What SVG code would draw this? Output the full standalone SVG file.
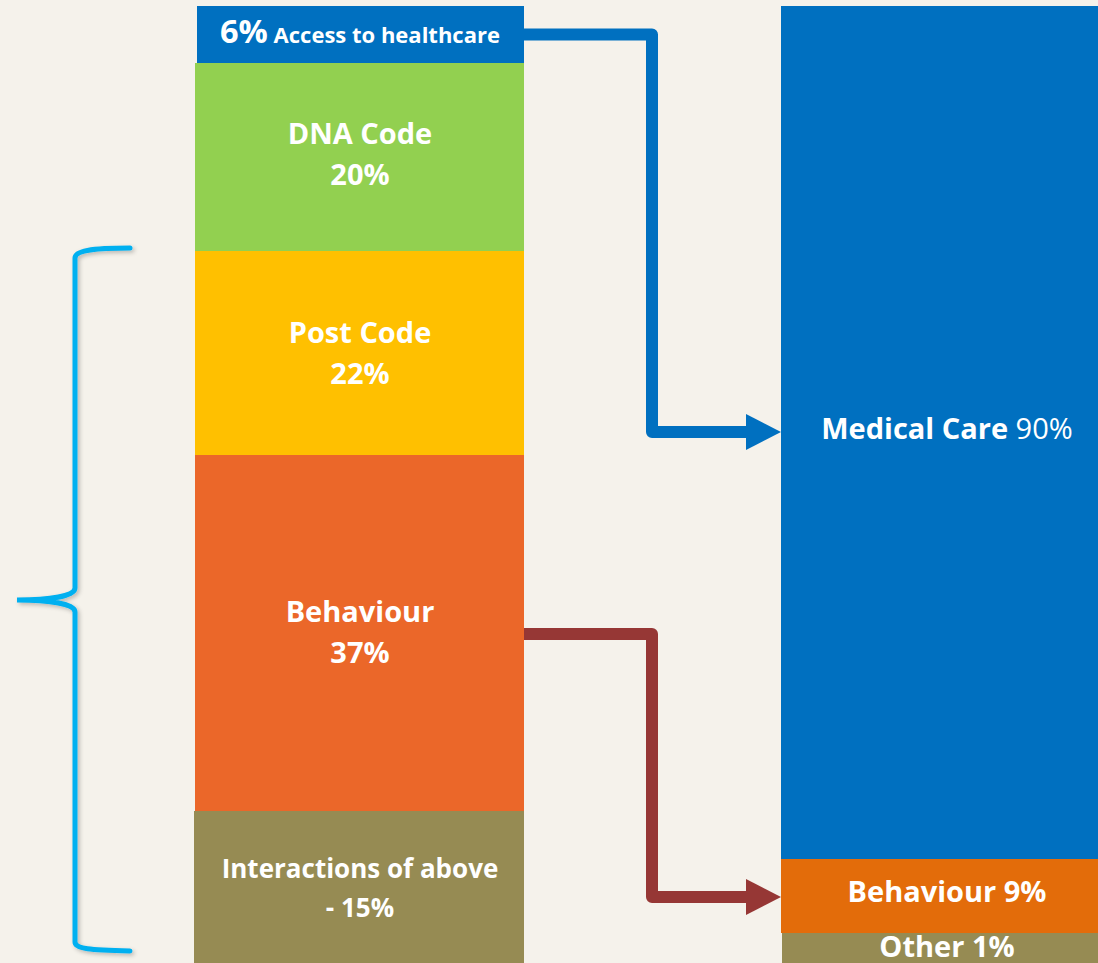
<svg xmlns="http://www.w3.org/2000/svg" width="1098" height="963" viewBox="0 0 1098 963">
<defs>
<style>
.t{font-family:"Open Sans","Noto Sans","DejaVu Sans",sans-serif;font-weight:700;fill:#fff;text-anchor:middle}
.c{fill:none;stroke-width:12;stroke-linejoin:round}
</style>
<filter id="sh" x="-20%" y="-5%" width="140%" height="110%">
<feGaussianBlur in="SourceAlpha" stdDeviation="2"/>
<feOffset dx="2" dy="2" result="b"/>
<feFlood flood-color="#000" flood-opacity="0.25"/>
<feComposite in2="b" operator="in"/>
<feMerge><feMergeNode/><feMergeNode in="SourceGraphic"/></feMerge>
</filter>
<marker id="ab" markerUnits="userSpaceOnUse" markerWidth="36" markerHeight="36" refX="0" refY="18" orient="auto" viewBox="0 0 36 36"><path d="M0,0 L35,18 L0,36 Z" fill="#0070C0"/></marker>
<marker id="ar" markerUnits="userSpaceOnUse" markerWidth="36" markerHeight="36" refX="0" refY="18" orient="auto" viewBox="0 0 36 36"><path d="M0,0 L35,18 L0,36 Z" fill="#963735"/></marker>
</defs>
<rect width="1098" height="963" fill="#F5F2EB"/>
<g id="access"><rect x="197" y="6" width="327" height="57" fill="#0070C0"/><text class="t" x="360" y="43"><tspan font-size="32.5">6%</tspan><tspan font-size="22"> Access to healthcare</tspan></text></g>
<g id="dna"><rect x="195" y="63" width="329" height="188" fill="#92D050"/><text class="t" x="360" y="144" font-size="29">DNA Code</text><text class="t" x="360" y="185" font-size="29">20%</text></g>
<g id="postcode"><rect x="195" y="251" width="329" height="204" fill="#FFC000"/><text class="t" x="360" y="343" font-size="29">Post Code</text><text class="t" x="360" y="384" font-size="29">22%</text></g>
<g id="behaviour"><rect x="195" y="455" width="329" height="356" fill="#EB6729"/><text class="t" x="360" y="622" font-size="29">Behaviour</text><text class="t" x="360" y="663" font-size="29">37%</text></g>
<g id="interactions"><rect x="194" y="811" width="330" height="152" fill="#968B53"/><text class="t" x="360" y="878" font-size="26">Interactions of above</text><text class="t" x="360" y="917" font-size="26">- 15%</text></g>
<g id="medical"><rect x="781" y="6" width="317" height="853" fill="#0070C0"/><text class="t" x="947" y="439" font-size="29">Medical Care <tspan font-weight="400">90%</tspan></text></g>
<g id="behaviour9"><rect x="781" y="859" width="317" height="74" fill="#E36C0A"/><text class="t" x="947" y="902" font-size="29">Behaviour 9%</text></g>
<g id="other"><rect x="782" y="933" width="316" height="30" fill="#968B53"/><text class="t" x="947" y="957" font-size="29">Other 1%</text></g>
<g id="bracket"><path d="M130,248 C90,248 75,251 75,258 L75,588 C75,596 50,600 17,600 C50,600 75,604 75,612 L75,942 C75,949 90,950 130,951" fill="none" stroke="#00B0F0" stroke-width="5" stroke-linecap="round" filter="url(#sh)"/></g>
<g id="connectors">
<path class="c" d="M524,34.5 L652,34.5 L652,432 L746,432" stroke="#0070C0" marker-end="url(#ab)"/>
<path class="c" d="M524,634 L652,634 L652,897 L746,897" stroke="#963735" marker-end="url(#ar)"/>
</g>
</svg>
